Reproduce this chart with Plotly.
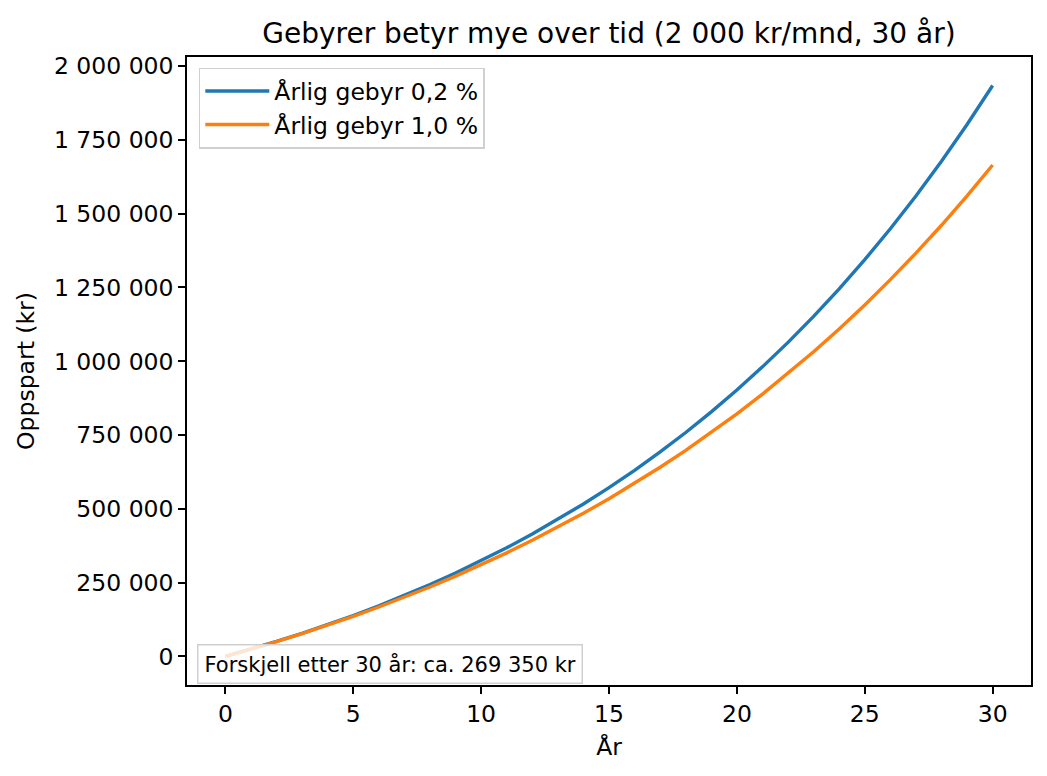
import plotly.graph_objects as go

# years and saved amounts (kr)
years = list(range(0, 31))
saved_02 = [0, 24650, 50770, 78440, 107770, 138830, 171750, 206640, 243590, 282760,
            324250, 368210, 414800, 464160, 516460, 571870, 630590, 692800, 758720, 828570,
            902570, 980990, 1064080, 1152110, 1245390, 1344230, 1448960, 1559920, 1677500,
            1802080, 1934080]
saved_10 = [0, 24560, 50370, 77500, 106030, 136010, 167520, 200650, 235470, 272080,
            310550, 351000, 393510, 438200, 485170, 534550, 586460, 641020, 698370, 758650,
            822020, 888640, 958650, 1032260, 1109620, 1190950, 1276430, 1366290, 1460750,
            1560040, 1664730]
names = ["Årlig gebyr 0,2 %", "Årlig gebyr 1,0 %"]
colors = ["#1f77b4", "#ff7f0e"]
y_ticks = [0, 250000, 500000, 750000, 1000000, 1250000, 1500000, 1750000, 2000000]
y_ticktext = ["0", "250 000", "500 000", "750 000", "1 000 000", "1 250 000",
              "1 500 000", "1 750 000", "2 000 000"]
note = "Forskjell etter 30 år: ca. 269 350 kr"

font = "DejaVu Sans"
fs = 23.5

fig = go.Figure()
for vals, name, col in zip([saved_02, saved_10], names, colors):
    fig.add_trace(go.Scatter(x=years, y=vals, name=name, mode="lines",
                             line=dict(color=col, width=3.4)))

axis_style = dict(showline=True, linecolor="black", linewidth=1.6, mirror=True,
                  ticks="outside", ticklen=7, tickwidth=1.6, tickcolor="black",
                  showgrid=False, zeroline=False,
                  tickfont=dict(family=font, size=fs, color="black"))

fig.update_layout(
    width=1047, height=776,
    paper_bgcolor="white", plot_bgcolor="white",
    # page body adds 8px offset, margins compensate
    margin=dict(l=179, r=24, t=49, b=99),
    title=dict(text="Gebyrer betyr mye over tid (2 000 kr/mnd, 30 år)",
               xref="paper", x=0.5, xanchor="center", y=0.968, yanchor="middle",
               font=dict(family=font, size=28, color="black")),
    xaxis=dict(range=[-1.5, 31.5], tickvals=[0, 5, 10, 15, 20, 25, 30],
               title=dict(text="År", font=dict(family=font, size=fs, color="black"), standoff=12),
               **axis_style),
    yaxis=dict(range=[-96600, 2030700], tickvals=y_ticks, ticktext=y_ticktext,
               title=dict(text="Oppspart (kr)", font=dict(family=font, size=fs, color="black"),
                          standoff=13),
               **axis_style),
    legend=dict(x=0.014, y=0.983, xanchor="left", yanchor="top",
                bgcolor="rgba(255,255,255,0.8)", bordercolor="#d0d0d0", borderwidth=1.5,
                itemwidth=64, tracegroupgap=0,
                font=dict(family=font, size=fs, color="black")),
    showlegend=True,
)

fig.add_annotation(text=note, xref="paper", yref="paper", x=0.012, y=0.001,
                   xanchor="left", yanchor="bottom", showarrow=False,
                   font=dict(family=font, size=21, color="black"),
                   bgcolor="rgba(255,255,255,0.8)", bordercolor="#d0d0d0",
                   borderwidth=1.5, borderpad=6)

fig.write_html("out.html")
